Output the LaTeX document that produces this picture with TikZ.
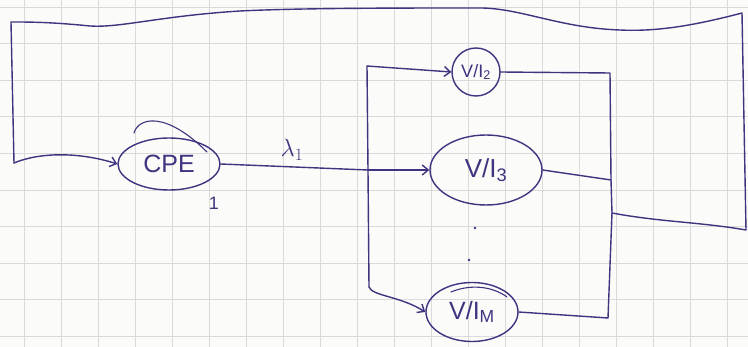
\documentclass[tikz,border=0pt]{standalone}
\usepackage{fontspec}
\setmainfont{Liberation Sans}
\usetikzlibrary{arrows.meta,shapes.geometric}
\definecolor{ink}{RGB}{62,52,128}
\definecolor{paper}{RGB}{251,251,249}
\definecolor{gridline}{RGB}{218,218,218}
\tikzset{
  pen/.style={draw=ink, line width=1.4pt, line cap=round, line join=round},
  blob/.style={pen, ellipse, inner sep=0pt, text=ink},
  feed/.style={pen, -{Straight Barb[length=6pt,width=10pt]}},
  inklabel/.style={text=ink, inner sep=0pt},
}
\begin{document}
\begin{tikzpicture}[x=1pt,y=-1pt]
  % squared paper
  \fill[paper] (0,0) rectangle (748,347);
  \useasboundingbox (0,0) rectangle (748,347);
  \foreach \k in {0,...,19}
    \draw[gridline, line width=0.9pt] ({24+37*\k},0) -- ({24+37*\k},347);
  \foreach \k in {0,...,9}
    \draw[gridline, line width=0.9pt] (0,{7+36.6*\k}) -- (748,{7+36.6*\k});

  % blocks
  \node[blob, minimum width=102pt, minimum height=52pt,
        font=\fontsize{25}{25}\selectfont] (cpe) at (169,164) {CPE};
  \node[blob, circle, minimum size=48pt,
        font=\fontsize{18}{18}\selectfont] (v2) at (476,72) {V/I\textsubscript{2}};
  \node[blob, minimum width=112pt, minimum height=70pt,
        font=\fontsize{26}{26}\selectfont] (v3) at (486,170) {V/I\textsubscript{3}};
  \node[blob, minimum width=92pt, minimum height=59pt,
        font=\fontsize{25}{25}\selectfont] (vm) at (472,312) {V/I\textsubscript{M}};

  % second pen strokes over the blocks
  \draw[pen, line width=1.1pt] (134,133) .. controls (138,118) and (165,110) .. (207,152);
  \draw[pen, line width=1.1pt] (451,292) .. controls (470,284) and (492,286) .. (507,297);

  % labels
  \node[inklabel, font=\fontsize{24}{24}\selectfont] (lam) at (292,150) {$\lambda_1$};
  \node[inklabel, font=\fontsize{18}{18}\selectfont] (one) at (214,203) {1};
  \node[circle, fill=ink, inner sep=0pt, minimum size=2.6pt] (d1) at (475,228) {};
  \node[circle, fill=ink, inner sep=0pt, minimum size=2.6pt] (d2) at (469,260) {};

  % left distribution bus
  \coordinate (bT) at (367,66);
  \coordinate (bM) at (368,170);
  \coordinate (bB) at (369,287);
  \draw[pen] (cpe.east) -- (bM);
  \draw[pen] (bT) -- (bM) -- (bB);
  \draw[feed] (bT) -- (v2.west);
  \draw[feed] (bM) -- (v3.west);
  \draw[feed] (bB) .. controls (372,296) and (400,296) .. (vm.west);

  % right collecting bus
  \coordinate (rT) at (610,73);
  \coordinate (rM) at (611,180);
  \coordinate (rR) at (612,213);
  \coordinate (rB) at (608,318);
  \draw[pen] (v2.east) -- (rT) -- (rM) -- (rR) -- (rB);
  \draw[pen] (v3.east) -- (rM);
  \draw[pen] (vm.east) -- (rB);

  % feedback loop back to the CPE
  \coordinate (oBR) at (746,230);
  \coordinate (oTR) at (742,13);
  \coordinate (oTL) at (11,22);
  \coordinate (oBL) at (14,163);
  \draw[pen] (rR) .. controls (660,222) and (700,222) .. (oBR) -- (oTR)
    .. controls (700,24) and (660,32) .. (620,30)
    .. controls (560,28) and (520,8) .. (480,8)
    .. controls (400,8) and (300,8) .. (240,11)
    .. controls (160,16) and (120,28) .. (90,26)
    .. controls (50,22) and (30,22) .. (oTL) -- (oBL);
  \draw[feed] (oBL) .. controls (40,152) and (80,152) .. (cpe.west);
\end{tikzpicture}
\end{document}
